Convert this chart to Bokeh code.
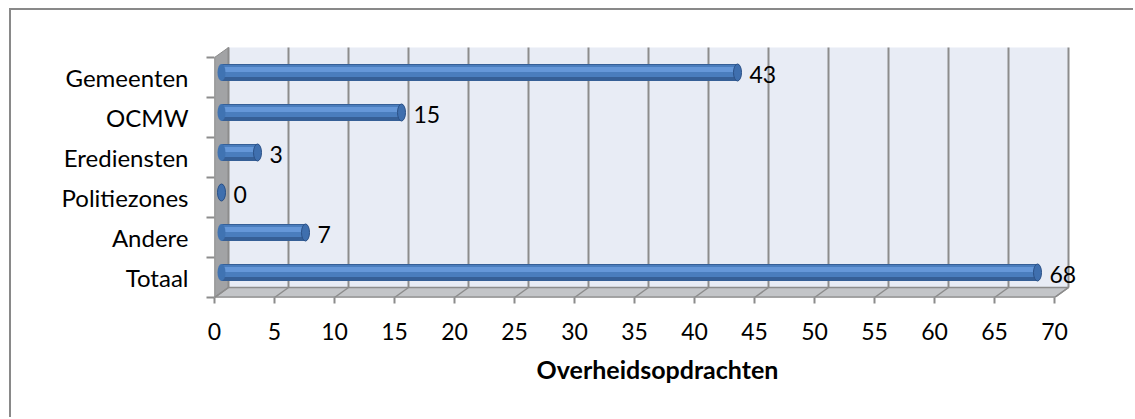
from bokeh.plotting import figure
from bokeh.models import Range1d, FixedTicker
from bokeh.core.properties import value
from bokeh.embed import file_html
from bokeh.resources import INLINE

# ---- data ----
categories = ["Gemeenten", "OCMW", "Erediensten", "Politiezones", "Andere", "Totaal"]
values = [43, 15, 3, 0, 7, 68]
x_ticks = list(range(0, 75, 5))
axis_title = "Overheidsopdrachten"

# ---- 3D geometry (in data units) ----
X_MAX = 70
PX_X = 12.0           # px per value unit
PX_Y = 40.0           # px per category
DX = 14 / PX_X        # depth offset in x
DY = 10 / PX_Y        # depth offset in y
N = len(categories)

FONT_NAME = "Lato"
FONT = value(FONT_NAME)
GRID = "#8C8C8C"

# canvas starts at page (11, 10) because of CSS margin + border
OX, OY = 11, 10
W, HT = 1124, 409
F_LEFT, F_TOP, F_BOTTOM, F_RIGHT = 214 - OX, 45 - OY, 297 - OY, 1100 - OX

p = figure(width=W, height=HT,
           x_range=Range1d(0, (F_RIGHT - F_LEFT) / PX_X),
           y_range=Range1d(0, (F_BOTTOM - F_TOP) / PX_Y),
           output_backend="svg", toolbar_location=None,
           min_border_left=F_LEFT, min_border_right=W - F_RIGHT,
           min_border_top=F_TOP, min_border_bottom=HT - F_BOTTOM)
p.styles = {"margin-top": "8px", "margin-left": "9px",
            "border-top": "2px solid #898989", "border-left": "2px solid #898989"}
p.grid.visible = False
p.outline_line_color = None
p.background_fill_color = "white"
p.border_fill_color = "white"

# back wall
p.quad(left=DX, right=X_MAX + DX, bottom=DY, top=N + DY,
       fill_color="#E8ECF5", line_color=None)
# side wall
p.patch([0, DX, DX, 0], [0, DY, N + DY, N], fill_color="#A2A3A5",
        line_color="#8A8A8A", line_width=1)
# floor
p.patch([0, X_MAX, X_MAX + DX, DX], [0, 0, DY, DY], fill_color="#C3C5C8",
        line_color=GRID, line_width=1.5)
# grid lines on back wall and floor
p.segment(x0=[t + DX for t in x_ticks], y0=[DY] * len(x_ticks),
          x1=[t + DX for t in x_ticks], y1=[N + DY] * len(x_ticks),
          line_color=GRID, line_width=2)
p.segment(x0=x_ticks, y0=[0] * len(x_ticks),
          x1=[t + DX for t in x_ticks], y1=[DY] * len(x_ticks),
          line_color=GRID, line_width=1.5)
# front edges
p.line([0, X_MAX], [0, 0], line_color=GRID, line_width=2)
p.line([0, 0], [0, N], line_color=GRID, line_width=1.5)

# ---- bars (cylinders) ----
yc = [N - i - 0.5 + DY / 2 for i in range(N)]
x0 = [DX / 2] * N
x1 = [v + DX / 2 for v in values]
H = 17 / PX_Y
p.hbar(y=yc, left=x0, right=x1, height=H, fill_color="#365F96", line_color=None)
p.hbar(y=[y + 1.5 / PX_Y for y in yc], left=x0, right=x1, height=H * 0.72,
       fill_color="#4A7DBD", line_color=None)
p.hbar(y=[y + 3 / PX_Y for y in yc], left=x0, right=x1, height=H * 0.3,
       fill_color="#6597D8", line_color=None)
p.ellipse(x=x0, y=yc, width=8 / PX_X, height=H, fill_color="#4073B2", line_color=None)
p.ellipse(x=x1, y=yc, width=8 / PX_X, height=H, fill_color="#3F6FAE",
          line_color="#2B5187", line_width=1)

# value labels
p.text(x=x1, y=yc, text=[str(v) for v in values], x_offset=12, y_offset=2,
       text_baseline="middle", text_align="left", text_font=FONT,
       text_font_size="23px", text_color="black")

# ---- axes ----
xa = p.xaxis[0]
xa.ticker = FixedTicker(ticks=x_ticks)
xa.axis_line_color = None
xa.major_tick_out = 6
xa.major_tick_in = 0
xa.major_tick_line_color = GRID
xa.major_tick_line_width = 2
xa.minor_tick_line_color = None
xa.major_label_text_font = FONT_NAME
xa.major_label_text_font_size = "23px"
xa.major_label_text_color = "black"
xa.major_label_standoff = 19
xa.axis_label = axis_title
xa.axis_label_text_font = FONT_NAME
xa.axis_label_text_font_size = "25px"
xa.axis_label_text_font_style = "bold"
xa.axis_label_text_color = "black"
xa.axis_label_standoff = 11

ya = p.yaxis[0]
centers = [N - i - 0.5 for i in range(N)]
ya.ticker = FixedTicker(ticks=centers, minor_ticks=list(range(N + 1)))
ya.major_label_overrides = {c: name for c, name in zip(centers, categories)}
ya.axis_line_color = None
ya.major_tick_line_color = None
ya.major_tick_out = 0
ya.major_tick_in = 0
ya.minor_tick_out = 8
ya.minor_tick_in = 0
ya.minor_tick_line_color = GRID
ya.minor_tick_line_width = 2
ya.major_label_text_font = FONT_NAME
ya.major_label_text_font_size = "24px"
ya.major_label_text_color = "black"
ya.major_label_standoff = 18

open("out.html", "w").write(file_html(p, INLINE))
